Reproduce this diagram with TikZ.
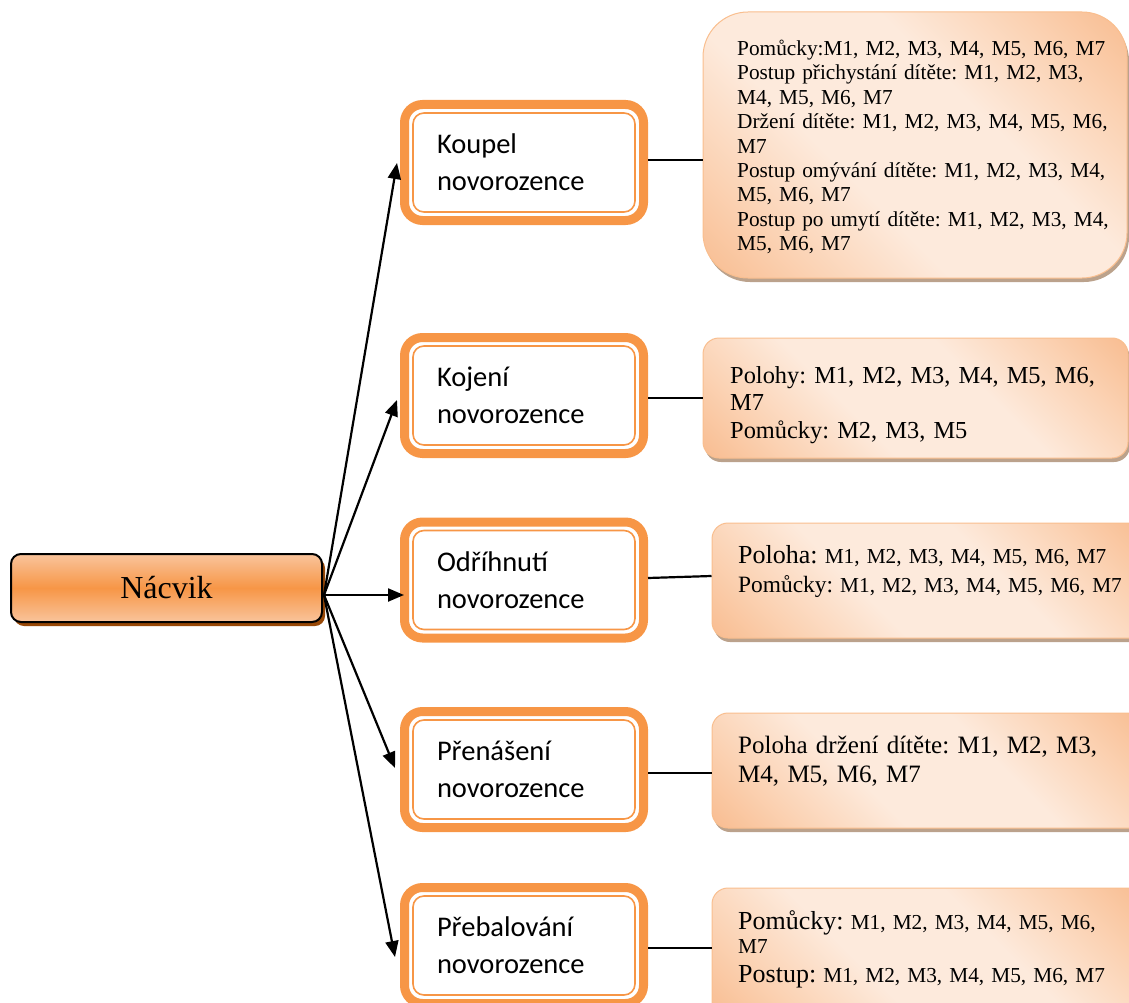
\documentclass[tikz,border=0pt]{standalone}
\usepackage{fontspec}
\setmainfont{Liberation Serif}
\newfontfamily\calibri{Carlito}
\usetikzlibrary{shadows,arrows.meta}
\frenchspacing

\definecolor{accent}{HTML}{F79646}
\definecolor{accentlight}{HTML}{F9BE8E}
\definecolor{rootedge}{HTML}{F9C49C}
\definecolor{peachdark}{HTML}{F7B483}
\definecolor{peachmid}{HTML}{FBD2B3}
\definecolor{peachlight}{HTML}{FDEADC}
\definecolor{shadowbrown}{HTML}{984807}
\definecolor{shadowtan}{HTML}{BBA28C}

% soft peach fill: darker towards two opposite corners, pale across the middle
\pgfdeclareverticalshading{peachfill}{100bp}{
  color(0bp)=(peachdark); color(10bp)=(peachdark); color(26bp)=(peachmid);
  color(40bp)=(peachlight); color(60bp)=(peachlight); color(74bp)=(peachmid);
  color(90bp)=(peachdark); color(100bp)=(peachdark)}

\tikzset{
  rootbox/.style={rectangle, rounded corners=10pt, draw=black, line width=2pt,
    top color=rootedge, bottom color=rootedge, middle color=accent,
    minimum width=311pt, minimum height=68pt, inner sep=0pt,
    font=\fontsize{32}{38}\selectfont,
    drop shadow={shadow xshift=3pt, shadow yshift=-4pt, fill=shadowbrown, opacity=1}},
  topicbox/.style={rectangle, rounded corners=18pt, draw=accent, line width=9pt,
    fill=white, minimum width=239pt, minimum height=116pt, inner sep=0pt,
    text width=174pt, align=left, font=\calibri\fontsize{28.5}{37}\selectfont},
  innerframe/.style={draw=accent, line width=1.6pt, rounded corners=11pt},
  notebox/.style={rectangle, draw=accentlight, line width=1pt,
    shading=peachfill, shading angle=-45, inner sep=0pt,
    drop shadow={shadow xshift=2pt, shadow yshift=-4pt, fill=shadowtan, opacity=1}},
  notetext/.style={anchor=base west, inner sep=0pt, text width=390pt, align=left},
  arrowline/.style={line width=2.2pt, -{Triangle[length=16pt,width=13pt]}},
  plainline/.style={line width=2.2pt},
}

\begin{document}
\begin{tikzpicture}[x=1pt, y=-1pt]
\useasboundingbox (0,0) rectangle (1129,1003);
\clip (0,0) rectangle (1129,1003);

% root
\node[rootbox, outer sep=1pt] (n) at (166.5,588) {Nácvik};
\coordinate (hub) at ([xshift=1pt,yshift=-7pt]n.east);

% topic boxes
\node[topicbox] (t1) at (524,162.5) {Koupel\\novorozence};
\node[topicbox] (t2) at (524,395.5) {Kojení\\novorozence};
\node[topicbox] (t3) at (524,580) {Odříhnutí\\novorozence};
\node[topicbox] (t4) at (524,769.5) {Přenášení\\novorozence};
\node[topicbox] (t5) at (524,945.5) {Přebalování\\novorozence};

\foreach \t in {t1,t2,t3,t4,t5}
  \draw[innerframe] ([xshift=13pt,yshift=-13pt]\t.north west)
    rectangle ([xshift=-13pt,yshift=13pt]\t.south east);

% note boxes
\node[notebox, rounded corners=45pt, minimum width=424pt, minimum height=266pt] (r1) at (915,145) {};
\node[notebox, rounded corners=16pt, minimum width=425pt, minimum height=120pt] (r2) at (915.5,398) {};
\node[notebox, rounded corners=16pt, minimum width=433pt, minimum height=115pt] (r3) at (928.5,580.5) {};
\node[notebox, rounded corners=16pt, minimum width=433pt, minimum height=115pt] (r4) at (928.5,770.5) {};
\node[notebox, rounded corners=16pt, minimum width=433pt, minimum height=130pt] (r5) at (928.5,953) {};

% note texts
\node[notetext, font=\fontsize{21.3}{24.4}\selectfont] (r1t) at (737,55.5)
  {Pomůcky:M1, M2, M3, M4, M5, M6, M7\\
   Postup přichystání dítěte: M1, M2, M3,\\
   M4, M5, M6, M7\\
   Držení dítěte: M1, M2, M3, M4, M5, M6,\\
   M7\\
   Postup omývání dítěte: M1, M2, M3, M4,\\
   M5, M6, M7\\
   Postup po umytí dítěte: M1, M2, M3, M4,\\
   M5, M6, M7};
\node[notetext, font=\fontsize{24.4}{27.7}\selectfont] (r2t) at (730,383)
  {Polohy: M1, M2, M3, M4, M5, M6,\\
   M7\\
   Pomůcky: M2, M3, M5};
\node[notetext, font=\fontsize{21.3}{29}\selectfont] (r3t) at (738,563)
  {{\fontsize{26}{29}\selectfont Poloha:} M1, M2, M3, M4, M5, M6, M7\\
   {\fontsize{23.4}{29}\selectfont Pomůcky:} M1, M2, M3, M4, M5, M6, M7};
\node[notetext, font=\fontsize{25}{29}\selectfont] (r4t) at (738,753)
  {Poloha držení dítěte: M1, M2, M3,\\
   M4, M5, M6, M7};
\node[notetext, font=\fontsize{21.3}{24}\selectfont] (r5t) at (738,929)
  {{\fontsize{26}{24}\selectfont Pomůcky:} M1, M2, M3, M4, M5, M6,\\
   M7\\[5pt]
   {\fontsize{26}{24}\selectfont Postup:} M1, M2, M3, M4, M5, M6, M7};

% arrows from the root
\draw[arrowline] (hub) -- ([xshift=-3pt,yshift=-0.5pt]t1.west);
\draw[arrowline] (hub) -- ([xshift=-3pt,yshift=-4.5pt]t2.west);
\draw[arrowline] (hub) -- ([xshift=4pt]t3.west |- hub);
\draw[arrowline] (hub) -- ([xshift=-5pt,yshift=1.5pt]t4.west);
\draw[arrowline] (hub) -- ([xshift=-5pt,yshift=-11.5pt]t5.west);

% links to the notes
\draw[plainline] ([yshift=2.5pt]t1.east) -- ([yshift=-15pt]r1.west);
\draw[plainline] ([yshift=-2.5pt]t2.east) -- (r2.west);
\draw[plainline] ([yshift=2pt]t3.east) -- ([yshift=4.5pt]r3.west);
\draw[plainline] ([yshift=-3.5pt]t4.east) -- ([yshift=-2.5pt]r4.west);
\draw[plainline] ([yshift=-2.5pt]t5.east) -- ([yshift=5pt]r5.west);
\end{tikzpicture}
\end{document}
